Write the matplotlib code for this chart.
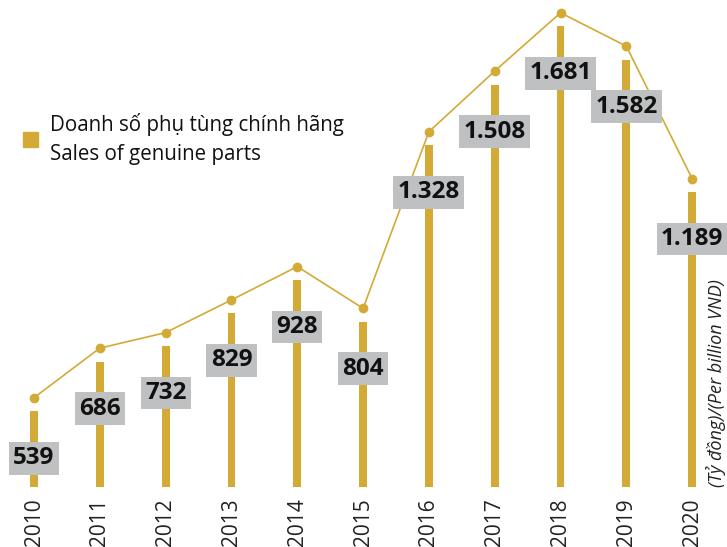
import matplotlib.pyplot as plt
from matplotlib.patches import Patch
from matplotlib import transforms

# data
years = ['2010', '2011', '2012', '2013', '2014', '2015', '2016', '2017', '2018', '2019', '2020']
sales = [539, 686, 732, 829, 928, 804, 1328, 1508, 1681, 1582, 1189]
value_labels = ['539', '686', '732', '829', '928', '804', '1.328', '1.508', '1.681', '1.582', '1.189']

gold = '#D3AA35'
box_grey = '#BFC0C2'

plt.rcParams['font.family'] = ['Open Sans', 'DejaVu Sans']

fig = plt.figure(figsize=(7.27, 5.47), dpi=100)
ax = fig.add_axes([0, 60 / 547, 1, 487 / 547])

x = list(range(len(years)))
ax.bar(x, sales, width=0.12, color=gold, zorder=2)

# the trend line floats a little above the bar tops
lifted = transforms.offset_copy(ax.transData, fig=fig, y=13.5, units='dots')
ax.plot(x, sales, color=gold, lw=1.2, marker='o', ms=6, transform=lifted, zorder=3)

for xi, v, lab in zip(x, sales, value_labels):
    ax.annotate(lab, (xi, v), xytext=(0, -47), textcoords='offset pixels',
                ha='center', va='center', fontsize=17.5, fontweight='bold', color='#111111',
                bbox=dict(boxstyle='square,pad=0.18', fc=box_grey, ec='none'), zorder=4)

ax.set_xlim(-0.517, 10.53)
ax.set_ylim(314, 1759)
ax.set_xticks(x)
ax.set_xticklabels(years, rotation=90, fontsize=15, color='#222222')
ax.tick_params(length=0, pad=8)
ax.set_yticks([])
for s in ax.spines.values():
    s.set_visible(False)

leg = fig.legend(handles=[Patch(color=gold)],
                 labels=['Doanh số phụ tùng chính hãng\nSales of genuine parts'],
                 loc='center left', bbox_to_anchor=(23 / 727, 1 - 139 / 547),
                 frameon=False, fontsize=14.8, handlelength=0.75, handleheight=0.75,
                 handletextpad=0.55, borderpad=0, borderaxespad=0)
leg.get_texts()[0].set_linespacing(1.45)
leg.get_texts()[0].set_color('#111111')

fig.text(716 / 727, 60 / 547, '(Tỷ đồng)/(Per billion VND)', rotation=90,
         ha='center', va='bottom', style='italic', fontsize=13, color='#222222')

fig.savefig('out.png', dpi=100)
